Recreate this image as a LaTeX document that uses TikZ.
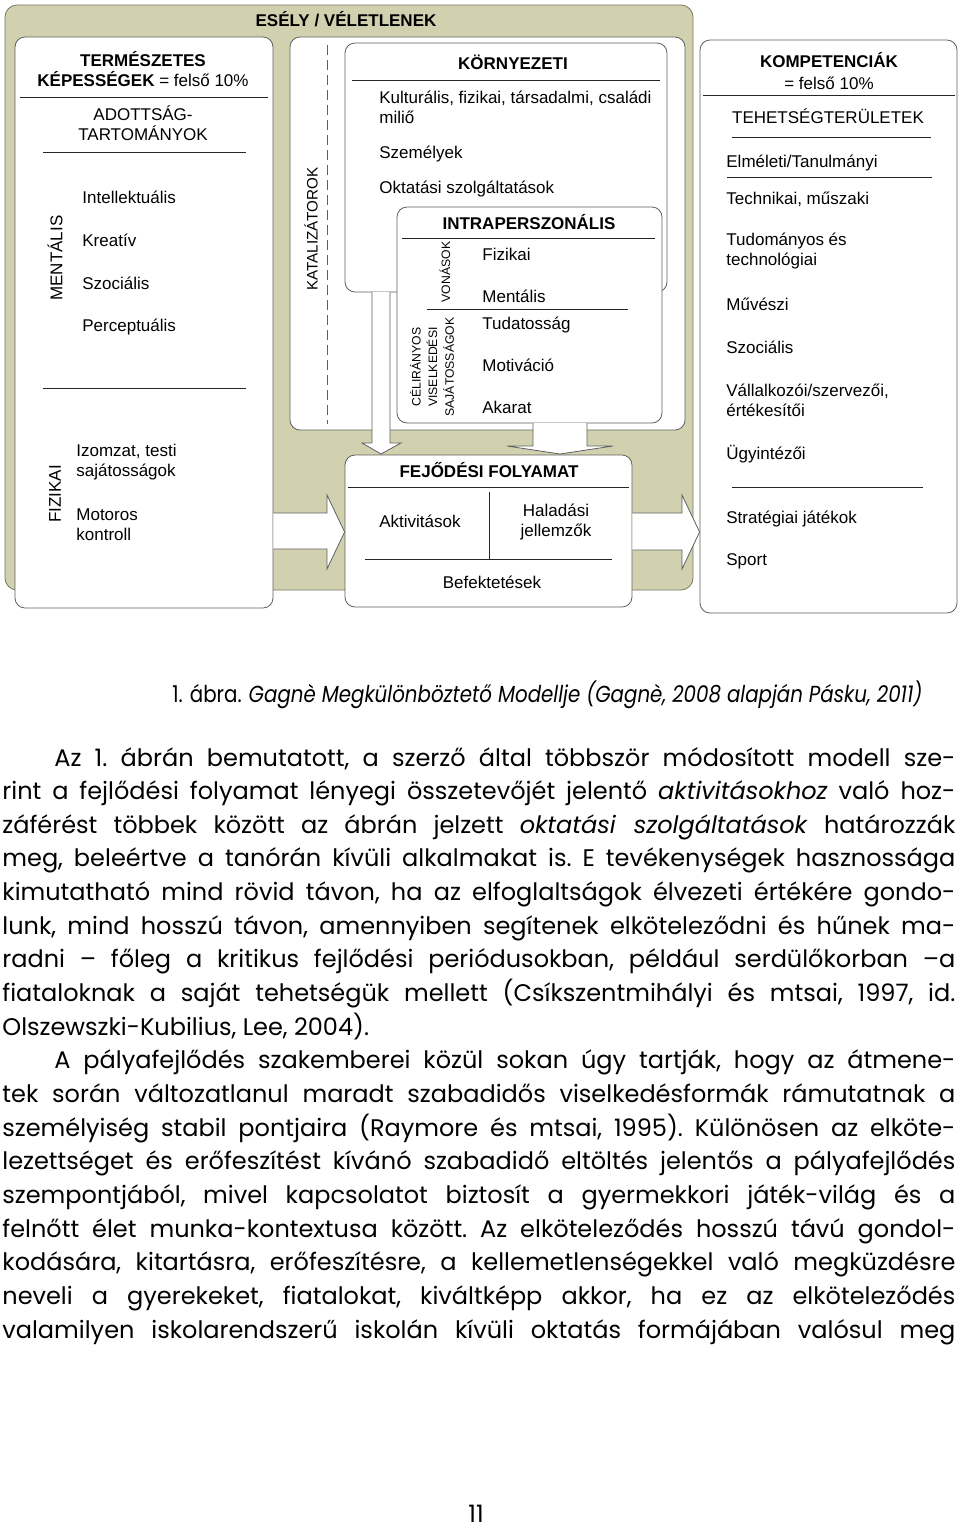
\documentclass[tikz,border=0pt]{standalone}
\usepackage{fontspec}
\setmainfont{Liberation Sans}
\newfontfamily\bodyfont{Poppins}
\usetikzlibrary{fit,positioning}
\definecolor{chance}{RGB}{209,209,176}
\definecolor{chanceline}{RGB}{120,120,98}
\definecolor{boxline}{RGB}{95,95,95}
\newcommand{\dfont}{\fontsize{8.5}{10}\selectfont}
\newcommand{\tinyfont}{\fontsize{6.1}{8.3}\selectfont}
\newcommand{\jline}[1]{\hbox to \linewidth{#1}}
\tikzset{
  panel/.style={draw=chanceline,fill=chance,rounded corners=6pt,inner sep=0pt},
  box/.style={draw=boxline,fill=white,rounded corners=5pt,inner sep=0pt},
  rule/.style={draw=black!85,line width=0.5pt},
  item/.style={font=\dfont,inner sep=0pt,anchor=west,text height=1.5ex,text depth=.25ex},
  items/.style={font=\dfont,inner sep=0pt,anchor=west,align=left},
  head/.style={font=\dfont\bfseries,inner sep=0pt,text height=1.5ex,text depth=.25ex},
  side/.style={font=\dfont,inner sep=0pt,rotate=90},
  blockarrow/.style={draw=boxline,fill=white,line join=miter}
}

\begin{document}
\begin{tikzpicture}[x=0.5pt,y=-0.5pt]
  \path[use as bounding box,fill=white] (0,0) rectangle (960,1532);

  % chance panel and catalysts
  \node[panel,fit={(5,5) (693,590)}] (chancep) {};
  \node[box,fit={(290,37) (685,430)}] (catal) {};
  \draw[boxline,dash pattern=on 5pt off 2.5pt] (327,45) -- (327,424);
  \node[box,fit={(345,43) (667,292)}] (env) {};
  \node[box,fit={(397,207) (662,423)}] (intra) {};

  % arrows into the developmental process
  \draw[blockarrow] (372,292) -- (372,443) -- (362,443) -- (381,454) -- (401,443) -- (390,443) -- (390,292);
  \draw[blockarrow] (533,423) -- (533,446) -- (507,446) -- (560,454) -- (613,446) -- (587,446) -- (587,423);

  \node[box,fit={(15,37) (273,608)}] (natab) {};
  \node[box,fit={(345,455) (632,607)}] (devel) {};
  \node[box,fit={(700,40) (957,613)}] (comp) {};

  \draw[blockarrow] (natab.east |- 0,513) -- (327,513) -- (327,495) -- (devel.west |- 0,532) -- (327,569) -- (327,549) -- (natab.east |- 0,549);
  \draw[blockarrow] (devel.east |- 0,513) -- (682,513) -- (682,495) -- (comp.west |- 0,532) -- (682,569) -- (682,550) -- (devel.east |- 0,550);

  \node[head] (chancet) at (346,20) {ESÉLY / VÉLETLENEK};

  % natural abilities
  \node[head] (natt1) at (143,60) {TERMÉSZETES};
  \node[head] (natt2) at (143,80) {KÉPESSÉGEK \textmd{= felső 10\%}};
  \draw[rule] (20,97) -- (268,97);
  \node[items,anchor=center,align=center] (domt) at (143,123) {ADOTTSÁG-\\TARTOMÁNYOK};
  \draw[rule] (43,152) -- (246,152);
  \node[side] (ment) at (55,258) {MENTÁLIS};
  \node[item] (intel) at (82,197) {Intellektuális};
  \node[item] (kreat) at (82,240) {Kreatív};
  \node[item] (szoc) at (82,283) {Szociális};
  \node[item] (perc) at (82,325) {Perceptuális};
  \draw[rule] (43,388) -- (246,388);
  \node[side] (fiz) at (55,494) {FIZIKAI};
  \node[items] (izom) at (76,462) {Izomzat, testi\\sajátosságok};
  \node[items] (motor) at (76,525) {Motoros\\kontroll};

  % catalysts
  \node[side,font=\fontsize{7.6}{9}\selectfont] (katal) at (311,229) {KATALIZÁTOROK};
  \node[head] (envt) at (513,63) {KÖRNYEZETI};
  \draw[rule] (352,80) -- (660,80);
  \node[items] (milieu) at (379,107) {Kulturális, fizikai, társadalmi, családi\\miliő};
  \node[item] (szem) at (379,152) {Személyek};
  \node[item] (oktat) at (379,187) {Oktatási szolgáltatások};

  \node[head] (intrat) at (529,223) {INTRAPERSZONÁLIS};
  \draw[rule] (402,238) -- (655,238);
  \node[side,font=\tinyfont] (vonas) at (445,272) {VONÁSOK};
  \draw[rule] (427,309) -- (628,309);
  \node[side,font=\tinyfont,align=center] (celir) at (432,367) {CÉLIRÁNYOS\\VISELKEDÉSI\\SAJÁTOSSÁGOK};
  \node[item] (ifiz) at (482,254) {Fizikai};
  \node[item] (iment) at (482,296) {Mentális};
  \node[item] (tudat) at (482,323) {Tudatosság};
  \node[item] (motiv) at (482,365) {Motiváció};
  \node[item] (akar) at (482,407) {Akarat};

  % developmental process
  \node[head] (devt) at (489,471) {FEJŐDÉSI FOLYAMAT};
  \draw[rule] (348,487) -- (629,487);
  \draw[rule] (489,492) -- (489,559);
  \draw[rule] (365,559) -- (612,559);
  \node[item,anchor=center] (aktiv) at (420,521) {Aktivitások};
  \node[items,anchor=center,align=center] (halad) at (556,522) {Haladási\\jellemzők};
  \node[item,anchor=center] (befekt) at (492,582) {Befektetések};

  % competencies
  \node[head] (compt) at (829,61) {KOMPETENCIÁK};
  \node[item,anchor=center] (compt2) at (829,83) {= felső 10\%};
  \draw[rule] (703,95) -- (955,95);
  \node[item,anchor=center] (tehet) at (828,117) {TEHETSÉGTERÜLETEK};
  \draw[rule] (732,137) -- (931,137);
  \node[item] (elm) at (726,161) {Elméleti/Tanulmányi};
  \draw[rule] (727,177) -- (932,177);
  \node[item] (techn) at (726,198) {Technikai, műszaki};
  \node[items] (tudom) at (726,251) {Tudományos és\\technológiai};
  \node[item] (muv) at (726,304) {Művészi};
  \node[item] (cszoc) at (726,347) {Szociális};
  \node[items] (vall) at (726,400) {Vállalkozói/szervezői,\\értékesítői};
  \node[item] (ugy) at (726,453) {Ügyintézői};
  \draw[rule] (732,487) -- (923,487);
  \node[item] (strat) at (726,517) {Stratégiai játékok};
  \node[item] (sport) at (726,559) {Sport};

  % caption, text, page number
  \node[anchor=west,inner sep=0pt,font=\bodyfont\fontsize{11.6}{12}\selectfont] (capt) at (172,695)
    {\resizebox{375pt}{\height}{1. ábra. \textit{Gagnè Megkülönböztető Modellje (Gagnè, 2008 alapján Pásku, 2011)}}};
  \node[anchor=base west,inner sep=0pt] (body) at (2,766) {\begin{minipage}[t]{476.5pt}\bodyfont\fontsize{12}{16.83}\selectfont\frenchspacing
\jline{\hskip26pt Az 1. ábrán bemutatott, a szerző által többször módosított modell sze-}
\jline{rint a fejlődési folyamat lényegi összetevőjét jelentő \textit{aktivitásokhoz} való hoz-}
\jline{záférést többek között az ábrán jelzett \textit{oktatási szolgáltatások} határozzák}
\jline{meg, beleértve a tanórán kívüli alkalmakat is. E tevékenységek hasznossága}
\jline{kimutatható mind rövid távon, ha az elfoglaltságok élvezeti értékére gondo-}
\jline{lunk, mind hosszú távon, amennyiben segítenek elköteleződni és hűnek ma-}
\jline{radni – főleg a kritikus fejlődési periódusokban, például serdülőkorban –a}
\jline{fiataloknak a saját tehetségük mellett (Csíkszentmihályi és mtsai, 1997, id.}
\jline{Olszewszki-Kubilius, Lee, 2004).\hfil}
\jline{\hskip26pt A pályafejlődés szakemberei közül sokan úgy tartják, hogy az átmene-}
\jline{tek során változatlanul maradt szabadidős viselkedésformák rámutatnak a}
\jline{személyiség stabil pontjaira (Raymore és mtsai, 1995). Különösen az elköte-}
\jline{lezettséget és erőfeszítést kívánó szabadidő eltöltés jelentős a pályafejlődés}
\jline{szempontjából, mivel kapcsolatot biztosít a gyermekkori játék-világ és a}
\jline{felnőtt élet munka-kontextusa között. Az elköteleződés hosszú távú gondol-}
\jline{kodására, kitartásra, erőfeszítésre, a kellemetlenségekkel való megküzdésre}
\jline{neveli a gyerekeket, fiatalokat, kiváltképp akkor, ha ez az elköteleződés}
\jline{valamilyen iskolarendszerű iskolán kívüli oktatás formájában valósul meg}
\end{minipage}};
  \node[inner sep=0pt,font=\bodyfont\fontsize{12}{14}\selectfont] (pagenum) at (476,1514) {11};
\end{tikzpicture}
\end{document}
